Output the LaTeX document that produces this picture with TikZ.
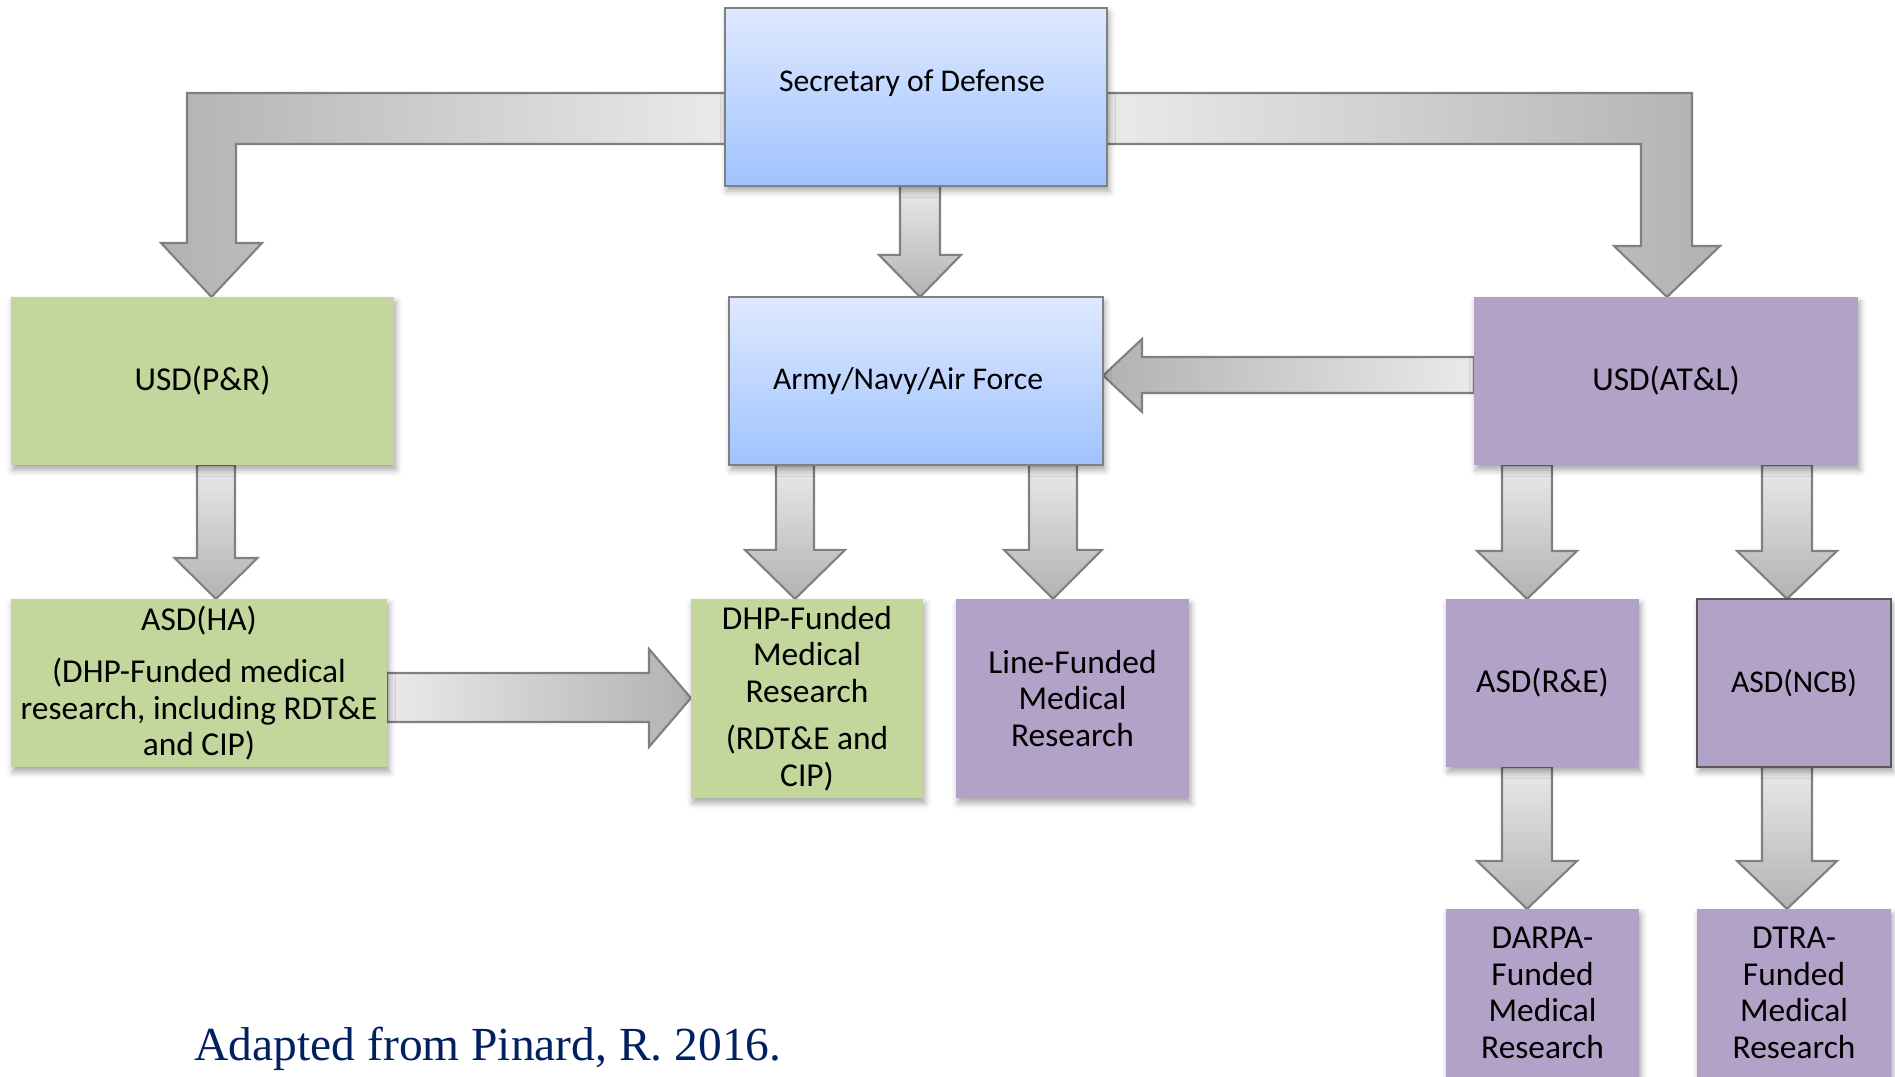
\documentclass[tikz,border=0pt]{standalone}
\usepackage{fontspec}
\setmainfont{Carlito}
\newfontfamily\citefont{Liberation Serif}
\usetikzlibrary{calc,shadows.blur}

\definecolor{boxgreen}{RGB}{195,214,155}
\definecolor{boxpurple}{RGB}{178,162,199}
\definecolor{bluetop}{RGB}{222,233,255}
\definecolor{bluebot}{RGB}{160,195,255}
\definecolor{arrowlight}{RGB}{234,234,234}
\definecolor{arrowdark}{RGB}{178,178,178}
\definecolor{arrowline}{RGB}{128,128,128}
\definecolor{citeblue}{RGB}{0,32,96}

\pgfdeclarelayer{background}
\pgfsetlayers{background,main}

\tikzset{
  orgbox/.style={rectangle, inner sep=1pt, outer sep=0pt, align=center,
    font=\fontsize{9.5}{10.4}\selectfont,
    blur shadow={shadow xshift=0.02cm, shadow yshift=-0.05cm,
      shadow blur radius=0.06cm, shadow opacity=35}},
  bluebox/.style={orgbox, draw=arrowline, line width=0.5pt,
    top color=bluetop, bottom color=bluebot},
  greenbox/.style={orgbox, fill=boxgreen},
  purplebox/.style={orgbox, fill=boxpurple},
  blockarrow/.style={draw=arrowline, line width=0.6pt, line join=miter},
}

% block arrow going down: x, from, to, shaft half, head half, head length
\newcommand{\downblock}[6]{%
  \shade[blockarrow, top color=arrowlight, bottom color=arrowdark]
    ($(#1,0 |- #2.south)+(-#4,0)$) -- ($(#1,0 |- #2.south)+(#4,0)$)
    -- ($(#1,0 |- #3.north)+(#4,-#6)$) -- ($(#1,0 |- #3.north)+(#5,-#6)$)
    -- (#1,0 |- #3.north)
    -- ($(#1,0 |- #3.north)+(-#5,-#6)$) -- ($(#1,0 |- #3.north)+(-#4,-#6)$)
    -- cycle;}

\begin{document}
\begin{tikzpicture}[x=0.01cm, y=-0.01cm]
\useasboundingbox (0,0) rectangle (1895,1077);

% TOP
\node[bluebox, minimum width=3.82cm, minimum height=1.78cm] (sec) at (916,97) {};
\node[font=\fontsize{9}{10.4}\selectfont] (sectxt) at (912,83) {Secretary of Defense};

% SECOND ROW
\node[greenbox, minimum width=3.83cm, minimum height=1.68cm] (pr) at (202.5,381) {USD(P\&R)};
\node[bluebox, font=\fontsize{9}{10.4}\selectfont, minimum width=3.74cm, minimum height=1.68cm] (army) at (916,381) {Army/Navy/Air Force\hspace*{0.16cm}};
\node[purplebox, minimum width=3.84cm, minimum height=1.68cm] (atl) at (1666,381) {USD(AT\&L)};

% THIRD ROW
\node[greenbox, minimum width=3.76cm, minimum height=1.68cm] (ha) at (199,683)
  {ASD(HA)\\[4.5pt](DHP-Funded medical\\research, including RDT\&E\\and CIP)};
\node[greenbox, minimum width=2.32cm, minimum height=1.99cm] (dhp) at (807,698.5)
  {DHP-Funded\\Medical\\Research\\[3pt](RDT\&E and\\CIP)};
\node[purplebox, minimum width=2.33cm, minimum height=1.99cm] (linefund) at (1072.5,698.5)
  {Line-Funded\\Medical\\Research};
\node[purplebox, minimum width=1.93cm, minimum height=1.68cm] (re) at (1542.5,683) {ASD(R\&E)};
\node[purplebox, draw=black!65, line width=0.6pt, font=\fontsize{9}{10.4}\selectfont,
  minimum width=1.94cm, minimum height=1.68cm] (ncb) at (1794,683) {ASD(NCB)};

% BOTTOM ROW
\node[purplebox, minimum width=1.93cm, minimum height=1.68cm] (darpa) at (1542.5,993)
  {DARPA-\\Funded\\Medical\\Research};
\node[purplebox, minimum width=1.94cm, minimum height=1.68cm] (dtra) at (1794,993)
  {DTRA-\\Funded\\Medical\\Research};

\node[anchor=base west, inner sep=0pt, text=citeblue,
  font=\citefont\fontsize{13.5}{16}\selectfont] (cite) at (194,1060) {Adapted from Pinard, R. 2016.};

% ARROWS
\begin{pgfonlayer}{background}
\shade[blockarrow, left color=arrowdark, right color=arrowlight]
  (sec.west |- 0,93) -- (187,93) -- (187,243) -- (161,243) -- (211.5,0 |- pr.north)
  -- (262,243) -- (236,243) -- (236,144) -- (sec.west |- 0,144) -- cycle;
\shade[blockarrow, left color=arrowlight, right color=arrowdark]
  (sec.east |- 0,93) -- (1692,93) -- (1692,246) -- (1720,246) -- (1667,0 |- atl.north)
  -- (1614,246) -- (1641,246) -- (1641,144) -- (sec.east |- 0,144) -- cycle;
\shade[blockarrow, left color=arrowdark, right color=arrowlight]
  (atl.west |- 0,357) -- (1142,357) -- (1142,339) -- (army.east |- 0,375.5)
  -- (1142,412) -- (1142,393) -- (atl.west |- 0,393) -- cycle;
\shade[blockarrow, left color=arrowlight, right color=arrowdark]
  (ha.east |- 0,673) -- (649,673) -- (649,649) -- (dhp.west |- 0,698)
  -- (649,747) -- (649,722) -- (ha.east |- 0,722) -- cycle;

\downblock{920}{sec}{army}{20}{41}{42}
\downblock{216}{pr}{ha}{19}{41.5}{41}
\downblock{795}{army}{dhp}{19}{50}{49}
\downblock{1053}{army}{linefund}{24}{49}{49}
\downblock{1527}{atl}{re}{25}{50}{48}
\downblock{1787}{atl}{ncb}{25}{50}{48}
\downblock{1527}{re}{darpa}{25}{50}{48}
\downblock{1787}{ncb}{dtra}{25}{50}{48}
\end{pgfonlayer}
\end{tikzpicture}
\end{document}
